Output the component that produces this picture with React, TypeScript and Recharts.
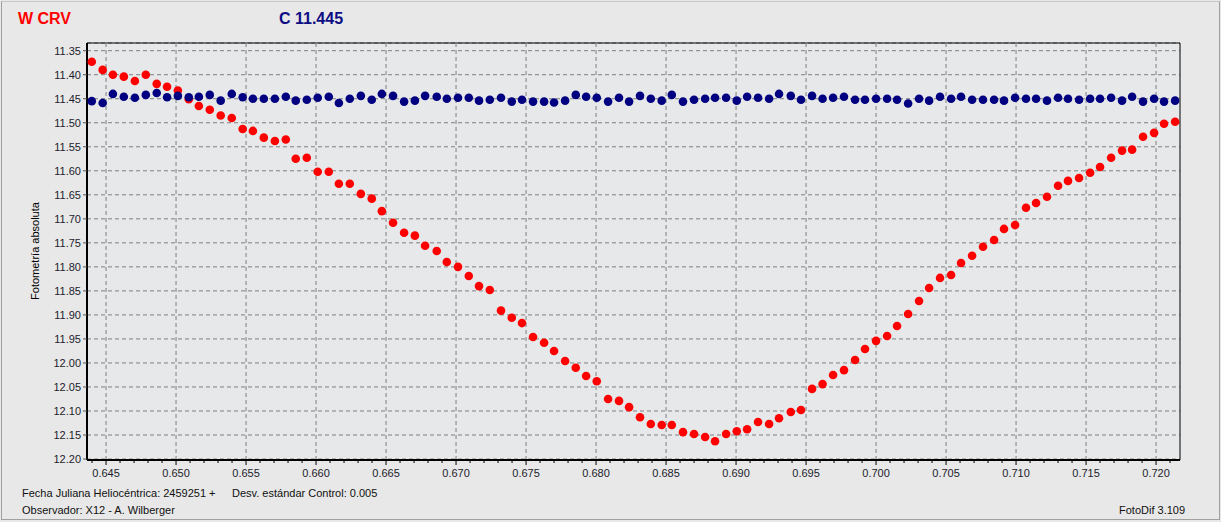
import { ScatterChart, Scatter, XAxis, YAxis, CartesianGrid, ReferenceArea, ReferenceLine } from 'recharts'

// Heliocentric Julian Date minus 2459251
const hjd = [
  0.64398, 0.64476, 0.64549, 0.64627, 0.64706, 0.64784, 0.64862, 0.64936, 0.65013, 0.65091,
  0.65163, 0.65241, 0.65319, 0.65398, 0.65476, 0.65549, 0.65627, 0.65706, 0.65784, 0.65855,
  0.65934, 0.66012, 0.66091, 0.66163, 0.66241, 0.6632, 0.66398, 0.6647, 0.6655, 0.66629,
  0.66706, 0.66779, 0.66862, 0.66934, 0.67014, 0.67091, 0.67164, 0.67241, 0.67321, 0.67398,
  0.67471, 0.6755, 0.67629, 0.677, 0.67779, 0.67855, 0.67929, 0.68005, 0.68086, 0.68164,
  0.68236, 0.68314, 0.68391, 0.68469, 0.68541, 0.68621, 0.687, 0.68779, 0.6885, 0.68929,
  0.69005, 0.69079, 0.69157, 0.69236, 0.69307, 0.69391, 0.69464, 0.69543, 0.69618, 0.69693,
  0.69771, 0.6985, 0.69921, 0.7, 0.70079, 0.7015, 0.70229, 0.70307, 0.70379, 0.70457,
  0.70536, 0.70607, 0.70686, 0.70764, 0.70843, 0.70914, 0.70993, 0.71071, 0.71143, 0.71221,
  0.713, 0.71371, 0.7145, 0.71529, 0.716, 0.71679, 0.71757, 0.71829, 0.71907, 0.71986,
  0.72057, 0.72136
]

// W CRV
const varMag = [
  11.373, 11.39, 11.4, 11.404, 11.413, 11.4, 11.419, 11.425, 11.433, 11.451,
  11.465, 11.473, 11.485, 11.49, 11.513, 11.517, 11.531, 11.538, 11.535, 11.575,
  11.573, 11.602, 11.602, 11.627, 11.627, 11.648, 11.658, 11.684, 11.708, 11.729,
  11.735, 11.756, 11.767, 11.79, 11.8, 11.819, 11.84, 11.848, 11.891, 11.906,
  11.917, 11.946, 11.958, 11.975, 11.996, 12.01, 12.027, 12.038, 12.075, 12.079,
  12.092, 12.113, 12.127, 12.129, 12.129, 12.144, 12.148, 12.154, 12.163, 12.148,
  12.142, 12.138, 12.123, 12.127, 12.115, 12.102, 12.098, 12.054, 12.044, 12.025,
  12.015, 11.994, 11.971, 11.954, 11.944, 11.923, 11.898, 11.871, 11.844, 11.823,
  11.817, 11.792, 11.777, 11.758, 11.744, 11.721, 11.713, 11.677, 11.667, 11.654,
  11.631, 11.621, 11.615, 11.604, 11.592, 11.573, 11.558, 11.556, 11.529, 11.521,
  11.502, 11.498
]

// comparison star C
const compMag = [
  11.455, 11.459, 11.44, 11.446, 11.448, 11.442, 11.438, 11.447, 11.444, 11.447,
  11.446, 11.442, 11.454, 11.44, 11.447, 11.45, 11.45, 11.45, 11.446, 11.454,
  11.452, 11.448, 11.446, 11.459, 11.45, 11.444, 11.452, 11.44, 11.444, 11.456,
  11.454, 11.444, 11.446, 11.45, 11.448, 11.448, 11.454, 11.452, 11.448, 11.456,
  11.452, 11.456, 11.456, 11.458, 11.454, 11.442, 11.446, 11.448, 11.456, 11.448,
  11.456, 11.444, 11.45, 11.454, 11.442, 11.456, 11.452, 11.45, 11.448, 11.448,
  11.454, 11.446, 11.448, 11.45, 11.44, 11.444, 11.452, 11.444, 11.45, 11.448,
  11.446, 11.452, 11.452, 11.45, 11.45, 11.452, 11.46, 11.45, 11.454, 11.446,
  11.45, 11.446, 11.452, 11.452, 11.452, 11.454, 11.448, 11.45, 11.45, 11.454,
  11.448, 11.45, 11.452, 11.45, 11.45, 11.448, 11.454, 11.446, 11.456, 11.45,
  11.456, 11.454
]

const xTicks = [0.645, 0.65, 0.655, 0.66, 0.665, 0.67, 0.675, 0.68, 0.685, 0.69, 0.695, 0.7, 0.705, 0.71, 0.715, 0.72]
const yTicks = [11.35, 11.4, 11.45, 11.5, 11.55, 11.6, 11.65, 11.7, 11.75, 11.8, 11.85, 11.9, 11.95, 12.0, 12.05, 12.1, 12.15, 12.2]

const X_DOMAIN: [number, number] = [0.64364, 0.72171]
const Y_DOMAIN: [number, number] = [11.334, 12.202]

// minor ticks every 0.001
const minorTicks = Array.from({ length: 78 }, (_, i) => +(0.644 + i * 0.001).toFixed(3))

const varData = hjd.map((t, i) => ({ t, mag: varMag[i] }))
const compData = hjd.map((t, i) => ({ t, mag: compMag[i] }))

const FONT = '"Liberation Sans", Arial, sans-serif'
const GRID = '#7f7f7f'

const Dot = (color: string) => (props: any) => (
  <circle cx={props.cx} cy={props.cy} r={4.3} fill={color} />
)

const XTick = (props: any) => {
  const { x, y, payload } = props
  const v = payload.value as number
  const major = xTicks.some(m => Math.abs(m - v) < 1e-6)
  return (
    <g>
      <line x1={x} x2={x} y1={y} y2={y + (major ? 5 : 3)} stroke="#000" />
      {major && (
        <text x={x} y={y + 17} textAnchor="middle" fontSize={11} fontFamily={FONT} fill="#1c1c2c">
          {v.toFixed(3)}
        </text>
      )}
    </g>
  )
}

const txt = (extra: React.CSSProperties): React.CSSProperties => ({
  position: 'absolute',
  fontFamily: FONT,
  fontSize: 11,
  lineHeight: '13px',
  color: '#111',
  whiteSpace: 'nowrap',
  ...extra
})

export default function App() {
  return (
    <div style={{ position: 'absolute', left: 0, top: 0, width: 1221, height: 522, background: '#e8e8e8', overflow: 'hidden' }}>
      <div style={{ position: 'absolute', left: 1, top: 1, width: 1217, height: 517, border: '1px solid #a0a0a0', borderTopColor: '#c8c8c8' }} />

      <div style={{ position: 'absolute', left: 18, top: 11, fontFamily: FONT, fontWeight: 'bold', fontSize: 16, lineHeight: '16px', color: '#ff0000' }}>W CRV</div>
      <div style={{ position: 'absolute', left: 279, top: 11, fontFamily: FONT, fontWeight: 'bold', fontSize: 16, lineHeight: '16px', color: '#0c0c84' }}>C 11.445</div>

      <div style={{ position: 'absolute', left: 0, top: 0 }}>
        <ScatterChart width={1221} height={522} margin={{ top: 43, right: 41, bottom: 32, left: 0 }}>
          <CartesianGrid vertical={false} stroke={GRID} strokeDasharray="4 3" fill="#e6e8ea" fillOpacity={1} />
          {xTicks.map(v => (
            <ReferenceLine key={v} x={v} stroke={GRID} strokeDasharray="4 3" ifOverflow="visible" />
          ))}
          <XAxis
            type="number"
            dataKey="t"
            domain={X_DOMAIN}
            allowDataOverflow
            ticks={minorTicks}
            interval={0}
            tick={<XTick />}
            tickLine={false}
            tickSize={0}
            tickMargin={0}
            height={30}
            axisLine={{ stroke: '#000', strokeWidth: 2 }}
          />
          <YAxis
            type="number"
            dataKey="mag"
            domain={Y_DOMAIN}
            allowDataOverflow
            reversed
            ticks={yTicks}
            interval={0}
            width={87}
            tickSize={4}
            tickMargin={2}
            tickFormatter={(v: number) => v.toFixed(2)}
            tick={{ fontSize: 11, fontFamily: FONT, fill: '#1c1c2c' }}
            tickLine={{ stroke: '#555' }}
            axisLine={{ stroke: '#000', strokeWidth: 2 }}
          />
          <ReferenceArea
            x1={X_DOMAIN[0]}
            x2={X_DOMAIN[1]}
            y1={Y_DOMAIN[0]}
            y2={Y_DOMAIN[1]}
            fill="none"
            fillOpacity={0}
            stroke="#000"
            strokeWidth={1}
            ifOverflow="visible"
          />
          <Scatter name="W CRV" data={varData} fill="#ff0000" shape={Dot('#ff0000')} isAnimationActive={false} />
          <Scatter name="C" data={compData} fill="#000080" shape={Dot('#000080')} isAnimationActive={false} />
        </ScatterChart>
      </div>

      <div style={txt({ left: 35, top: 251, transform: 'translate(-50%, -50%) rotate(-90deg)', color: '#000' })}>
        Fotometría absoluta
      </div>

      <div style={txt({ left: 22, top: 487 })}>Fecha Juliana Heliocéntrica: 2459251 +</div>
      <div style={txt({ left: 232, top: 487 })}>Desv. estándar Control: 0.005</div>
      <div style={txt({ left: 22, top: 504 })}>Observador: X12 - A. Wilberger</div>
      <div style={txt({ left: 1119, top: 504 })}>FotoDif 3.109</div>
    </div>
  )
}
